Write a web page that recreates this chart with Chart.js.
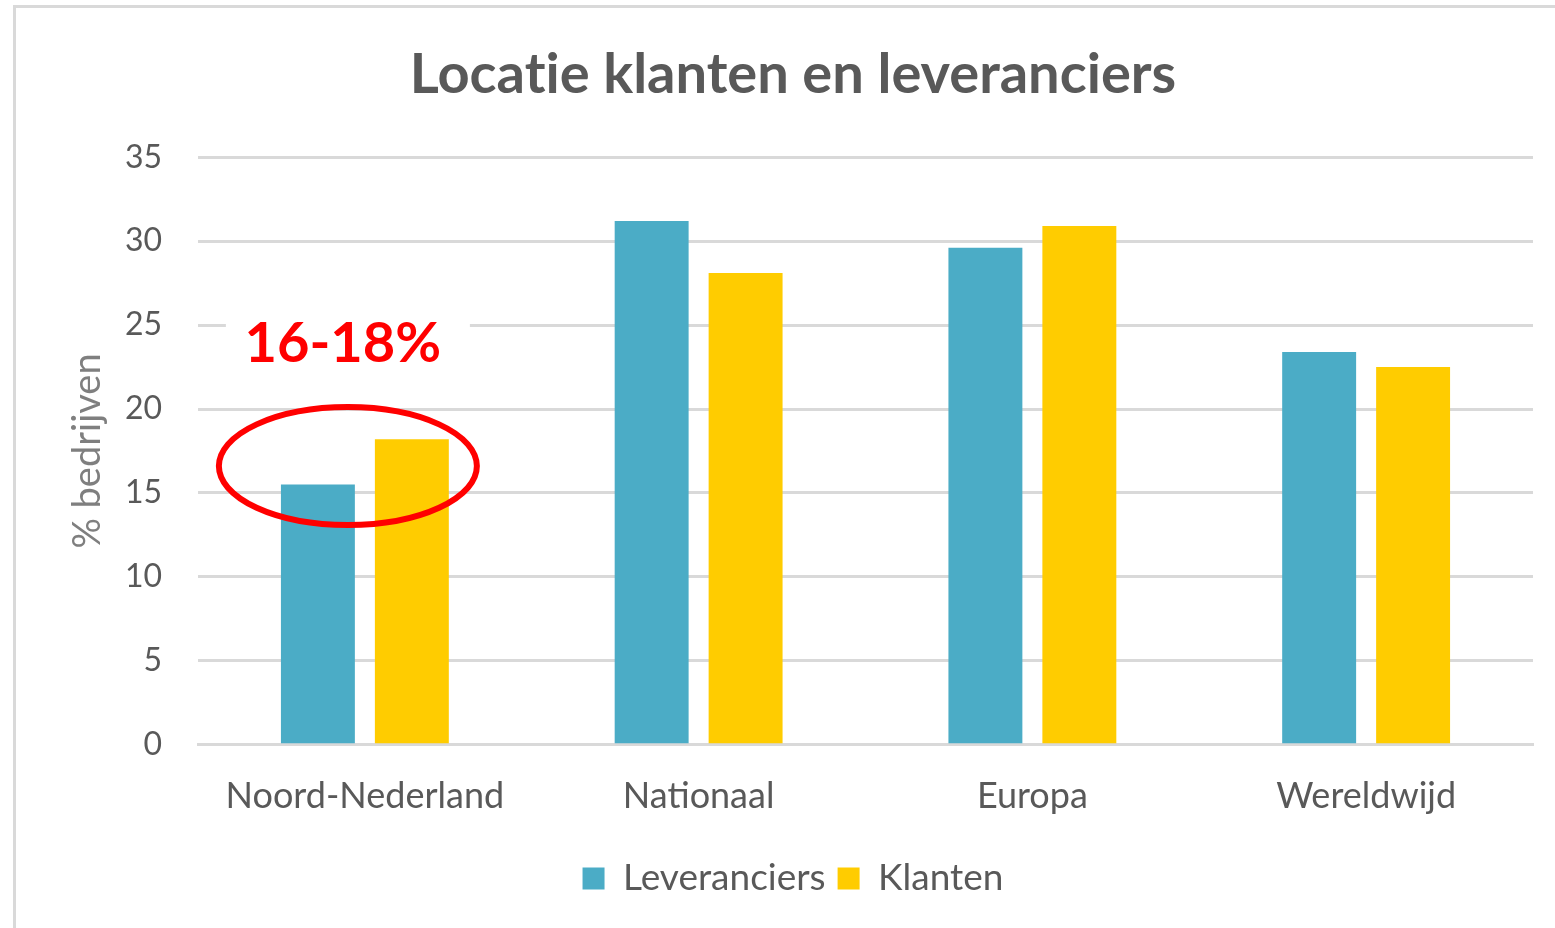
<!DOCTYPE html>
<html>
<head>
<meta charset="utf-8">
<script src="https://cdn.jsdelivr.net/npm/chart.js@4"></script>
<style>
  html, body { margin: 0; padding: 0; background: #ffffff; }
  #wrap { width: 1555px; height: 928px; position: relative; }
</style>
</head>
<body>
<div id="wrap"><canvas id="c" width="1555" height="928"></canvas></div>
<script>
const categories = ['Noord-Nederland', 'Nationaal', 'Europa', 'Wereldwijd'];
const leveranciers = [15.5, 31.2, 29.6, 23.4];
const klanten = [18.2, 28.1, 30.9, 22.5];
const yTicks = [0, 5, 10, 15, 20, 25, 30, 35];
const titleText = 'Locat\u200Cie klanten en leveranciers';
const yTitle = '% bedrijven';
const annotationText = '16-18%';
const annotationCategory = 0;
const annotationCenterValue = 16.6;
const annotationTextValue = 23.9;

const GRID = '#d9d9d9';
const TEXT = '#595959';
const FONT = 'Lato, "Open Sans", sans-serif';

const framePlugin = {
  id: 'frame',
  beforeDraw(chart) {
    const ctx = chart.ctx;
    ctx.save();
    ctx.fillStyle = '#ffffff';
    ctx.fillRect(0, 0, chart.width, chart.height);
    ctx.strokeStyle = '#d9d9d9';
    ctx.lineWidth = 3;
    ctx.strokeRect(14.5, 6.5, chart.width + 20, chart.height + 20);
    ctx.restore();
  }
};

const annotationPlugin = {
  id: 'annot',
  afterDatasetsDraw(chart) {
    const ctx = chart.ctx;
    const xs = chart.scales.x, ys = chart.scales.y;
    const cx = xs.getPixelForValue(annotationCategory) - 17;
    const cy = ys.getPixelForValue(annotationCenterValue);
    ctx.save();
    ctx.strokeStyle = '#ff0000';
    ctx.lineWidth = 6;
    ctx.beginPath();
    ctx.ellipse(cx, cy, 129, 59, 0, 0, Math.PI * 2);
    ctx.stroke();
    const ty = ys.getPixelForValue(annotationTextValue);
    const tx = cx - 5;
    ctx.fillStyle = '#ffffff';
    ctx.fillRect(tx - 117, ty - 40, 244, 80);
    ctx.fillStyle = '#ff0000';
    ctx.font = 'bold 56px ' + FONT;
    ctx.textAlign = 'center';
    ctx.textBaseline = 'middle';
    ctx.fillText(annotationText, tx, ty);
    ctx.restore();
  }
};

new Chart(document.getElementById('c'), {
  type: 'bar',
  data: {
    labels: categories,
    datasets: [
      { label: 'Leveranciers', data: leveranciers, backgroundColor: '#4BACC6', categoryPercentage: 0.563, barPercentage: 0.787 },
      { label: 'Klanten', data: klanten, backgroundColor: '#FFCC00', categoryPercentage: 0.563, barPercentage: 0.787 }
    ]
  },
  options: {
    responsive: false,
    animation: false,
    devicePixelRatio: 1,
    layout: { padding: { left: 31, right: 0, top: 0, bottom: 21 } },
    plugins: {
      title: {
        display: true,
        text: titleText,
        color: TEXT,
        font: { family: FONT, size: 56, weight: 'bold', lineHeight: 1.2 },
        padding: { top: 41, bottom: 49 }
      },
      legend: {
        position: 'bottom',
        labels: {
          color: TEXT,
          font: { family: FONT, size: 37 },
          boxWidth: 22,
          boxHeight: 22,
          padding: 12
        }
      },
      tooltip: { enabled: false }
    },
    scales: {
      x: {
        grid: { display: false, drawTicks: false },
        border: { display: true, color: GRID, width: 3 },
        ticks: { color: TEXT, font: { family: FONT, size: 36 }, padding: 30 }
      },
      y: {
        min: 0, max: 35,
        afterFit(s) { s.width = 167; },
        afterBuildTicks(s) { s.ticks = yTicks.map(v => ({ value: v })); },
        grid: { color: GRID, lineWidth: 3, drawTicks: false },
        border: { display: false },
        ticks: { color: TEXT, font: { family: FONT, size: 32 }, padding: 36 },
        title: {
          display: true, text: yTitle, color: '#7f7f7f',
          font: { family: FONT, size: 38, lineHeight: 1.2 },
          padding: { top: 34, bottom: 0 }
        }
      },
      y2: {
        position: 'right',
        display: true,
        afterFit(s) { s.width = 22; },
        grid: { display: false, drawTicks: false },
        border: { display: false },
        ticks: { display: false }
      }
    }
  },
  plugins: [framePlugin, annotationPlugin]
});
</script>
</body>
</html>
